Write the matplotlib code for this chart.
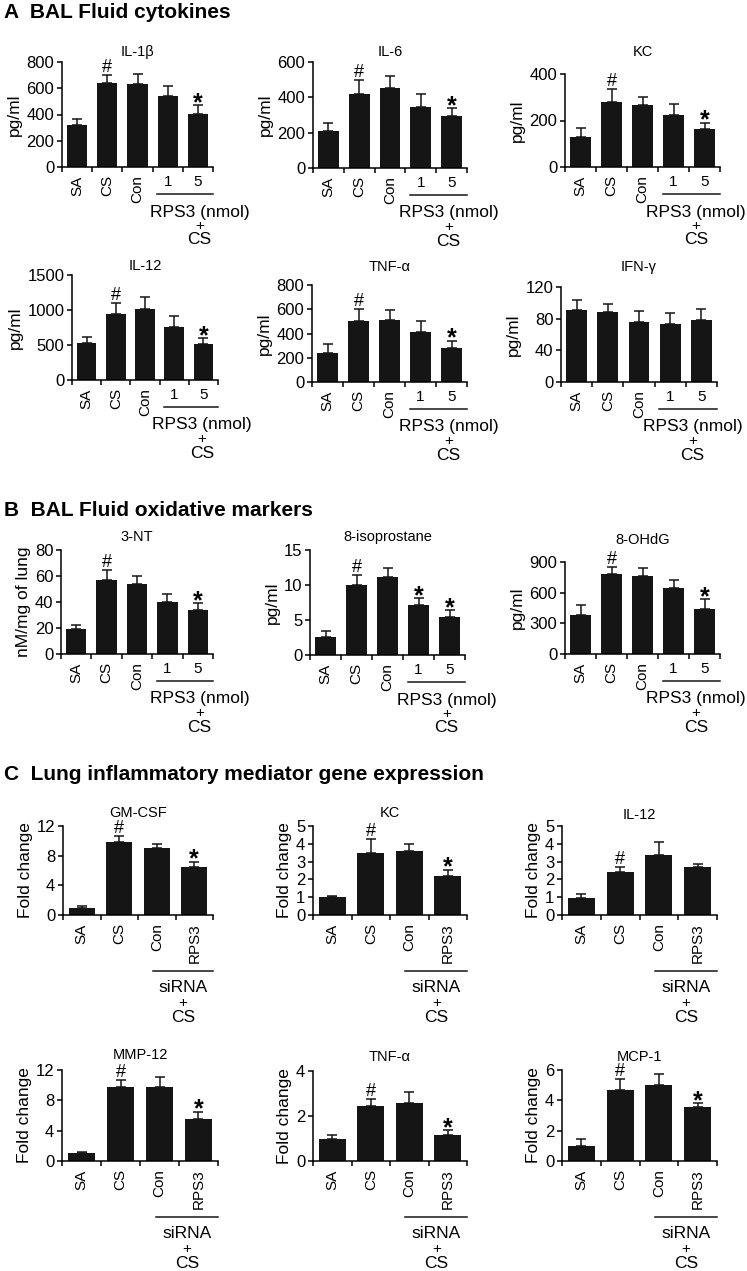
import numpy as np
import matplotlib
matplotlib.use('Agg')
import matplotlib.pyplot as plt
from matplotlib.transforms import offset_copy

plt.rcParams['font.family'] = ['Liberation Sans', 'DejaVu Sans']

# categories
cats_a = ['SA', 'CS', 'Con', '1', '5']
cats_c = ['SA', 'CS', 'Con', 'RPS3']

# A: BAL fluid cytokines (pg/ml)
il1b_mean = [320, 640, 630, 540, 405]
il1b_err = [45, 60, 80, 80, 65]
il6_mean = [209, 417, 455, 343, 294]
il6_err = [43, 82, 67, 74, 44]
kc_mean = [129, 280, 266, 223, 165]
kc_err = [39, 55, 36, 46, 26]
il12_mean = [524, 938, 1014, 762, 510]
il12_err = [95, 167, 176, 152, 85]
tnf_mean = [240, 500, 515, 415, 278]
tnf_err = [75, 100, 78, 85, 62]
ifng_mean = [91, 88, 76, 73, 78]
ifng_err = [13, 11, 14, 14, 14]

# B: oxidative markers
nt3_mean = [19.5, 57, 54, 40, 34]
nt3_err = [2.5, 7.5, 6, 6, 5]
iso_mean = [2.6, 10, 11.2, 7.1, 5.5]
iso_err = [0.8, 1.5, 1.2, 1.0, 0.9]
ohdg_mean = [386, 779, 763, 649, 445]
ohdg_err = [91, 72, 78, 78, 91]

# C: gene expression (fold change)
gmcsf_mean = [1.0, 9.8, 9.05, 6.5]
gmcsf_err = [0.15, 0.9, 0.55, 0.7]
kcc_mean = [1.0, 3.5, 3.6, 2.2]
kcc_err = [0.08, 0.75, 0.4, 0.35]
il12c_mean = [0.97, 2.4, 3.36, 2.68]
il12c_err = [0.2, 0.32, 0.75, 0.17]
mmp12_mean = [1.0, 9.8, 9.8, 5.6]
mmp12_err = [0.2, 0.9, 1.3, 0.9]
tnfc_mean = [1.0, 2.45, 2.6, 1.15]
tnfc_err = [0.15, 0.32, 0.45, 0.22]
mcp1_mean = [1.0, 4.7, 5.0, 3.55]
mcp1_err = [0.45, 0.72, 0.75, 0.25]

W, H = 747, 1271
fig = plt.figure(figsize=(W / 100, H / 100), dpi=100)
BLACK = '#151515'


def panel(box, title_y, title, mean, err, yticks, ylabel, cats, marks, kind, xc=None):
    l, t, r, b = box
    ax = fig.add_axes([l / W, 1 - b / H, (r - l) / W, (b - t) / H])
    n = len(mean)
    x = np.arange(n)
    ax.bar(x, mean, 0.67 if n == 5 else 0.7, color=BLACK, zorder=2)
    ax.errorbar(x, mean, yerr=[np.zeros(n), err], fmt='none', ecolor=BLACK,
                elinewidth=1.1, capsize=3.8, capthick=1.1, zorder=1)
    ax.set_xlim(-0.5, n - 0.5)
    ax.set_ylim(0, yticks[-1])
    ax.set_yticks(yticks)
    ax.spines[['top', 'right']].set_visible(False)
    for s in ['left', 'bottom']:
        ax.spines[s].set_linewidth(1.1)
    ax.tick_params(axis='y', direction='out', length=3.5, width=1.1, labelsize=12, pad=2)
    ax.set_xticks(x)
    ax.set_xticks(np.arange(n + 1) - 0.5, minor=True)
    ax.tick_params(axis='x', which='major', length=0, labelsize=11, pad=6)
    ax.tick_params(axis='x', which='minor', direction='out', length=3.5, width=1.1)
    ax.set_xticklabels(cats)
    for lab in ax.get_xticklabels():
        if lab.get_text() in ('1', '5'):
            lab.set_rotation(0)
        else:
            lab.set_rotation(90)
    ax.set_ylabel(ylabel, fontsize=12.5, labelpad=3)
    fig.text((l + r) / 2 / W, 1 - title_y / H, title, fontsize=10.5,
             ha='center', va='center')

    for i, sym in marks:
        top = mean[i] + err[i]
        if sym == '#':
            ax.annotate('#', xy=(i, top), xytext=(0, 3), textcoords='offset pixels',
                        ha='center', va='baseline', fontsize=13)
        else:
            ax.annotate('*', xy=(i, top), xytext=(0, -5), textcoords='offset pixels',
                        ha='center', va='baseline', fontsize=18, fontweight='bold')

    tr = ax.get_xaxis_transform()
    if kind == 'rps3':
        x0, x1 = 2.65, 4.5
        offs = [27, 45, 59, 73]
        words = ['RPS3 (nmol)', '+', 'CS']
    else:
        x0, x1 = 1.9, 3.5
        xc = 2.7
        offs = [56, 73, 88, 103]
        words = ['siRNA', '+', 'CS']
    ax.plot([x0, x1], [0, 0], color=BLACK, lw=1.1, clip_on=False,
            transform=offset_copy(tr, fig=fig, y=-offs[0], units='dots'))
    for w, o in zip(words, offs[1:]):
        ax.text(xc, 0, w, ha='center', va='center',
                fontsize=11 if w == '+' else 12.5,
                transform=offset_copy(tr, fig=fig, y=-o, units='dots'))
    return ax


mA = [(1, '#'), (4, '*')]
panel((62, 62, 213, 167), 52, 'IL-1β', il1b_mean, il1b_err, [0, 200, 400, 600, 800], 'pg/ml', cats_a, mA, 'rps3', 4.05)
panel((313, 62, 467, 168), 52, 'IL-6', il6_mean, il6_err, [0, 200, 400, 600], 'pg/ml', cats_a, mA, 'rps3', 3.9)
panel((565, 74, 720, 167), 52, 'KC', kc_mean, kc_err, [0, 200, 400], 'pg/ml', cats_a, mA, 'rps3', 3.72)
panel((72, 275, 218, 380), 266, 'IL-12', il12_mean, il12_err, [0, 500, 1000, 1500], 'pg/ml', cats_a, mA, 'rps3', 3.95)
panel((312, 285, 467, 382), 267, 'TNF-α', tnf_mean, tnf_err, [0, 200, 400, 600, 800], 'pg/ml', cats_a, mA, 'rps3', 3.9)
panel((561, 287, 717, 382), 267, 'IFN-γ', ifng_mean, ifng_err, [0, 40, 80, 120], 'pg/ml', cats_a, [], 'rps3', 3.72)

panel((61, 550, 213, 654), 537, '3-NT', nt3_mean, nt3_err, [0, 20, 40, 60, 80], 'nM/mg of lung', cats_a, mA, 'rps3', 4.05)
panel((310, 550, 465, 655), 537, '8-isoprostane', iso_mean, iso_err, [0, 5, 10, 15], 'pg/ml', cats_a,
      [(1, '#'), (3, '*'), (4, '*')], 'rps3', 3.9)
panel((565, 562, 720, 654), 540, '8-OHdG', ohdg_mean, ohdg_err, [0, 300, 600, 900], 'pg/ml', cats_a, mA, 'rps3', 3.72)

mC = [(1, '#'), (3, '*')]
panel((63, 826, 213, 915), 813, 'GM-CSF', gmcsf_mean, gmcsf_err, [0, 4, 8, 12], 'Fold change', cats_c, mC, 'sirna')
panel((313, 826, 467, 915), 813, 'KC', kcc_mean, kcc_err, [0, 1, 2, 3, 4, 5], 'Fold change', cats_c, mC, 'sirna')
panel((562, 826, 717, 915), 815, 'IL-12', il12c_mean, il12c_err, [0, 1, 2, 3, 4, 5], 'Fold change', cats_c, [(1, '#')], 'sirna')
panel((62, 1070, 218, 1161), 1055, 'MMP-12', mmp12_mean, mmp12_err, [0, 4, 8, 12], 'Fold change', cats_c, mC, 'sirna')
panel((313, 1071, 467, 1161), 1057, 'TNF-α', tnfc_mean, tnfc_err, [0, 2, 4], 'Fold change', cats_c, mC, 'sirna')
panel((562, 1070, 717, 1161), 1057, 'MCP-1', mcp1_mean, mcp1_err, [0, 2, 4, 6], 'Fold change', cats_c, mC, 'sirna')

for y, txt in [(12, 'A  BAL Fluid cytokines'), (510, 'B  BAL Fluid oxidative markers'),
               (775, 'C  Lung inflammatory mediator gene expression')]:
    fig.text(4 / W, 1 - y / H, txt, fontsize=15, fontweight='bold', va='center')

fig.savefig('out.png', dpi=100)
